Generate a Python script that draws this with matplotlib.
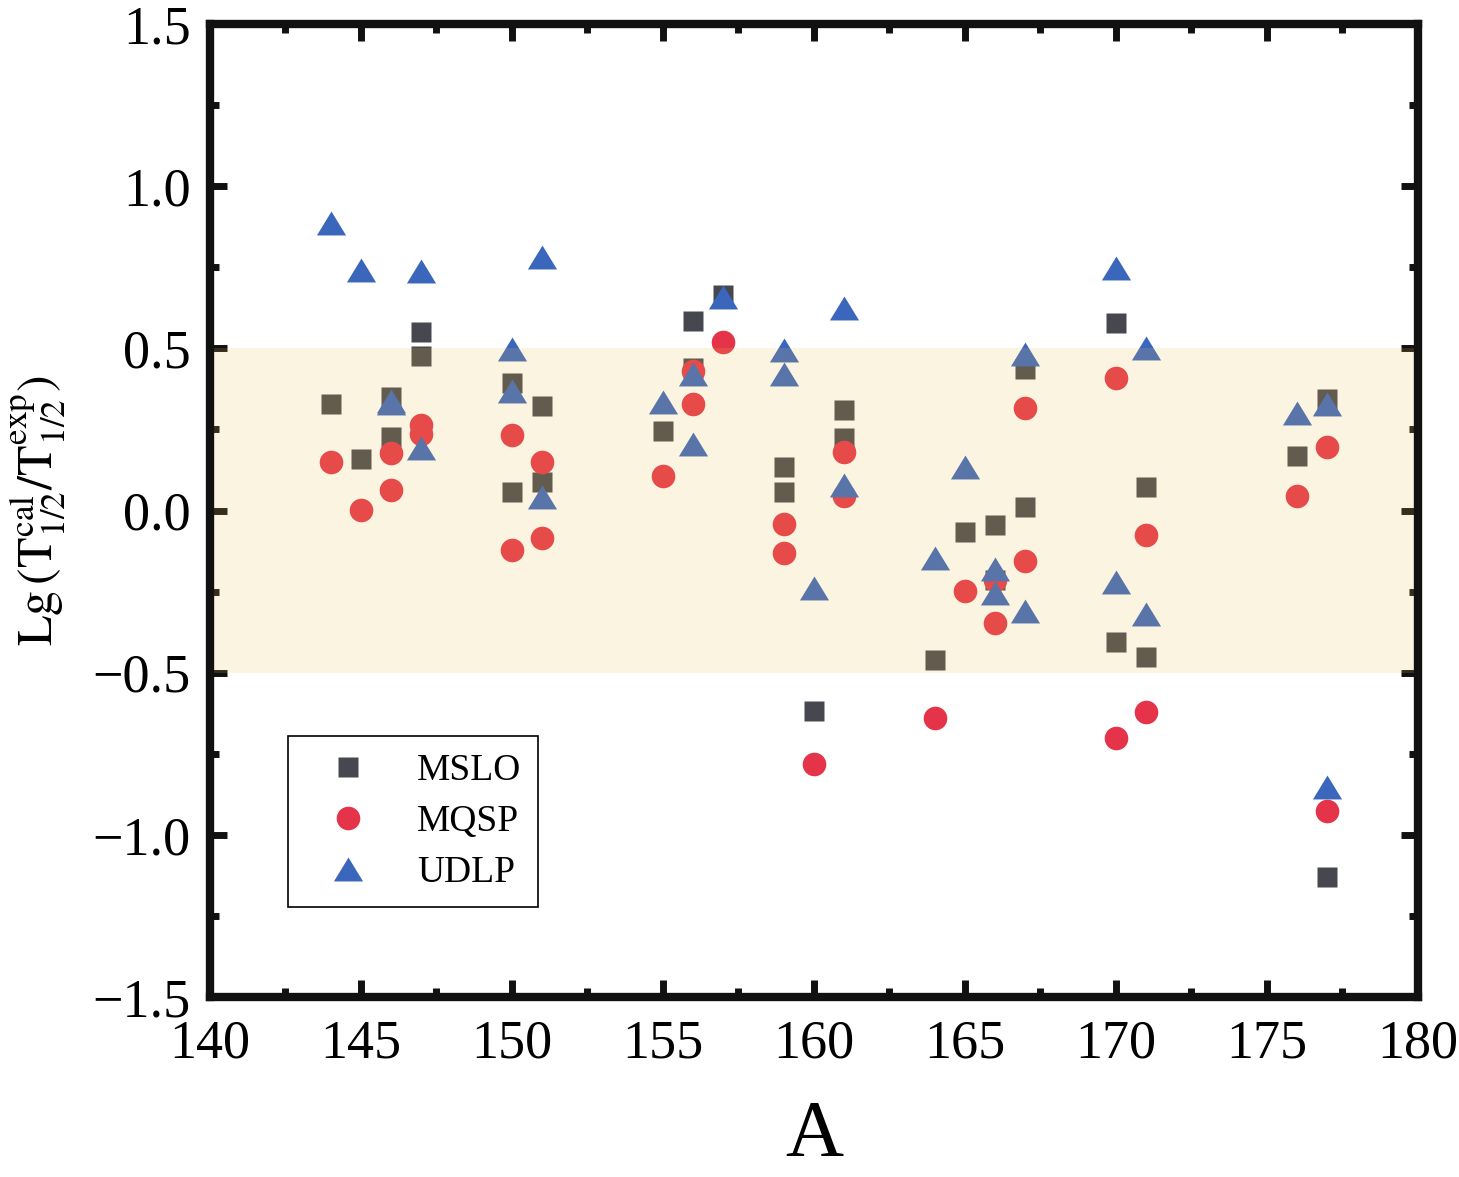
import matplotlib
matplotlib.use("Agg")
import matplotlib.pyplot as plt
from matplotlib.ticker import MultipleLocator

plt.rcParams["font.family"] = ["Liberation Serif", "DejaVu Serif"]
plt.rcParams["mathtext.fontset"] = "stix"

# mass number A (one entry per decay case, shared by the three models)
mass_a = [144, 145, 146, 146, 147, 147, 150, 150, 151, 151, 155, 156, 156, 157,
          159, 159, 160, 161, 161, 164, 165, 166, 166, 167, 167, 170, 170, 171,
          171, 176, 177, 177]

mslo = [0.328, 0.160, 0.351, 0.228, 0.551, 0.476, 0.393, 0.057, 0.323, 0.087,
        0.245, 0.585, 0.440, 0.663, 0.133, 0.058, -0.619, 0.311, 0.224, -0.462,
        -0.065, -0.044, -0.214, 0.435, 0.012, 0.579, -0.406, 0.074, -0.452,
        0.167, 0.343, -1.129]

mqsp = [0.149, 0.002, 0.178, 0.063, 0.265, 0.235, 0.233, -0.122, 0.149, -0.086,
        0.105, 0.430, 0.329, 0.519, -0.042, -0.131, -0.781, 0.180, 0.046, -0.639,
        -0.249, -0.215, -0.348, 0.316, -0.156, 0.408, -0.700, -0.075, -0.620,
        0.046, 0.196, -0.926]

udlp = [0.888, 0.741, 0.337, 0.330, 0.739, 0.194, 0.498, 0.368, 0.781, 0.042,
        0.336, 0.420, 0.206, 0.657, 0.496, 0.420, -0.238, 0.625, 0.078, -0.147,
        0.135, -0.181, -0.254, 0.483, -0.310, 0.749, -0.221, 0.502, -0.320,
        0.300, 0.328, -0.851]

band_lo, band_hi = -0.5, 0.5

tri = [(-1, -0.82), (1, -0.82), (0, 0.82)]

fig = plt.figure(figsize=(14.59, 11.77), dpi=100)
ax = fig.add_axes([0.1439, 0.1529, 0.8280, 0.8267])

ax.plot(mass_a, mslo, ls="none", marker="s", ms=14, color="#47484f",
        mec="none", label="MSLO", zorder=2)
ax.plot(mass_a, mqsp, ls="none", marker="o", ms=17, color="#e5344a",
        mec="none", label="MQSP", zorder=2)
ax.plot(mass_a, udlp, ls="none", marker=tri, ms=21, color="#3a66bb",
        mec="none", label="UDLP", zorder=2)

# translucent band laid over the points
ax.axhspan(band_lo, band_hi, color="#edbe4e", alpha=0.17, lw=0, zorder=3)

ax.set_xlim(140, 180)
ax.set_ylim(-1.5, 1.5)
ax.xaxis.set_major_locator(MultipleLocator(5))
ax.xaxis.set_minor_locator(MultipleLocator(2.5))
ax.yaxis.set_major_locator(MultipleLocator(0.5))
ax.yaxis.set_minor_locator(MultipleLocator(0.25))
ax.yaxis.set_major_formatter(lambda v, p: f"{v:.1f}".replace("-", "\u2212"))

ax.tick_params(which="both", direction="in", top=True, right=True,
               labelsize=39, color="#111111")
ax.tick_params(which="major", length=12.5, width=5)
ax.tick_params(axis="x", which="major", pad=16)
ax.tick_params(axis="y", which="major", pad=14)
ax.tick_params(which="minor", length=6.5, width=5)
for s in ax.spines.values():
    s.set_linewidth(6)
    s.set_color("#111111")
    s.set_zorder(5)

ax.set_xlabel("A", fontsize=58, labelpad=22)
ax.set_ylabel(r"$\mathrm{Lg}\,(\mathrm{T}^{\mathrm{cal}}_{1/2}/\mathrm{T}^{\mathrm{exp}}_{1/2})$",
              fontsize=36, labelpad=18)

leg = ax.legend(loc="upper left", bbox_to_anchor=(0.0646, 0.268),
                borderaxespad=0, fontsize=27, frameon=True, fancybox=False,
                edgecolor="black", framealpha=1, borderpad=0.45,
                handlelength=2.3, handletextpad=0.7, labelspacing=0.45)
leg.get_frame().set_linewidth(1.2)
leg.set_zorder(6)

fig.savefig("out.png", dpi=100)
